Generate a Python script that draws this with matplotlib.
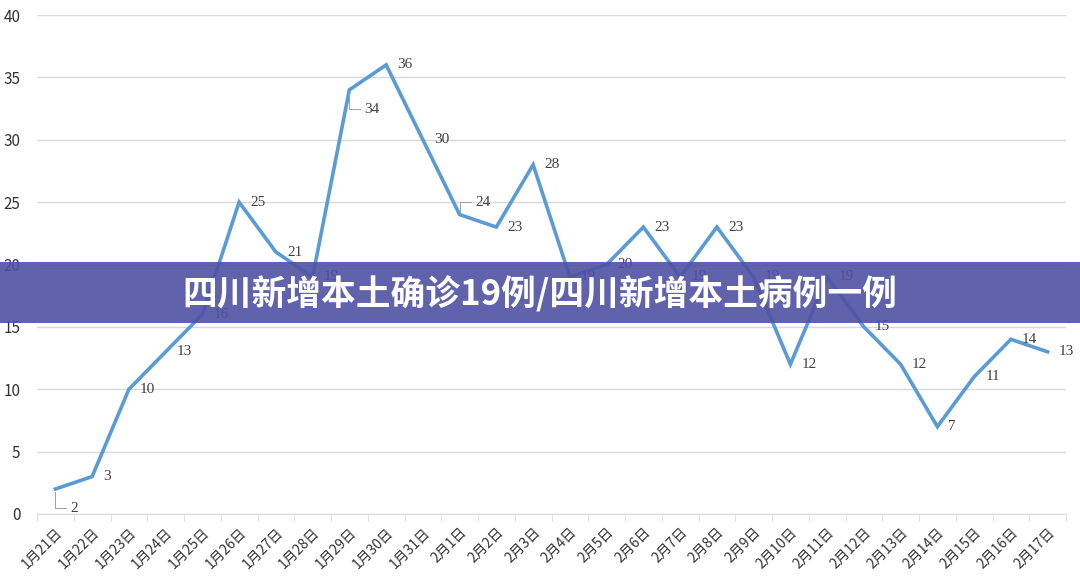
import numpy as np
import matplotlib.pyplot as plt

plt.rcParams['font.family'] = ['Noto Sans CJK SC', 'DejaVu Sans']

dates = ['1月21日', '1月22日', '1月23日', '1月24日', '1月25日', '1月26日', '1月27日',
         '1月28日', '1月29日', '1月30日', '1月31日', '2月1日', '2月2日', '2月3日',
         '2月4日', '2月5日', '2月6日', '2月7日', '2月8日', '2月9日', '2月10日',
         '2月11日', '2月12日', '2月13日', '2月14日', '2月15日', '2月16日', '2月17日']
cases = [2, 3, 10, 13, 16, 25, 21, 19, 34, 36, 30, 24, 23, 28,
         19, 20, 23, 19, 23, 19, 12, 19, 15, 12, 7, 11, 14, 13]
# labels that sit off the point with a small leader line
leader_up = ['2月1日']
leader_down = ['1月21日', '1月29日']

title = '四川新增本土确诊19例/四川新增本土病例一例'

fig = plt.figure(figsize=(10.8, 5.87), dpi=100)
ax = fig.add_axes([37 / 1080, 1 - 514 / 587, 1029 / 1080, 499 / 587])

x = np.arange(len(dates))
ax.plot(x, cases, color='#5b9bd5', lw=2.6, solid_joinstyle='miter', zorder=3)

lbl = dict(fontsize=11, family='Liberation Serif', color='#404040', va='center')
leader = dict(arrowstyle='-', color='#a0a0a0', lw=0.7, shrinkA=1, shrinkB=2,
              connectionstyle='angle,angleA=0,angleB=90,rad=0')
for xi, v, d in zip(x, cases, dates):
    if d in leader_down:
        ax.annotate(str(v), (xi, v), xytext=(11, -14), textcoords='offset points',
                    arrowprops=leader, **lbl)
    elif d in leader_up:
        ax.annotate(str(v), (xi, v), xytext=(11, 9), textcoords='offset points',
                    arrowprops=leader, **lbl)
    else:
        ax.annotate(str(v), (xi, v), xytext=(8, 0), textcoords='offset points', **lbl)

ax.set_xlim(-0.5, len(dates) - 0.5)
ax.set_ylim(0, 40)
ax.set_yticks(range(0, 41, 5))
ax.yaxis.grid(True, color='#d9d9d9', lw=1)
ax.set_axisbelow(True)

ax.set_xticks(x)
ax.set_xticklabels(dates, rotation=45, ha='right', rotation_mode='anchor',
                   fontsize=10, color='#333333')
ax.set_xticks(np.arange(-0.5, len(dates), 1), minor=True)
ax.tick_params(axis='x', which='major', length=0, pad=8)
ax.tick_params(axis='x', which='minor', length=5, color='#d9d9d9')
ax.tick_params(axis='y', length=0, labelsize=11, labelcolor='#333333', pad=12)

for s in ['top', 'right', 'left']:
    ax.spines[s].set_visible(False)
ax.spines['bottom'].set_color('#d9d9d9')

# title banner across the chart
fig.patches.append(plt.Rectangle((0, 1 - 323 / 587), 1, 61 / 587, transform=fig.transFigure,
                                 facecolor='#4f52a3', alpha=0.9, zorder=5))
fig.text(0.5, 1 - 294 / 587, title, ha='center', va='center', color='white',
         fontsize=25, fontweight='heavy', zorder=6)

fig.savefig('out.png', dpi=100, facecolor='white')
